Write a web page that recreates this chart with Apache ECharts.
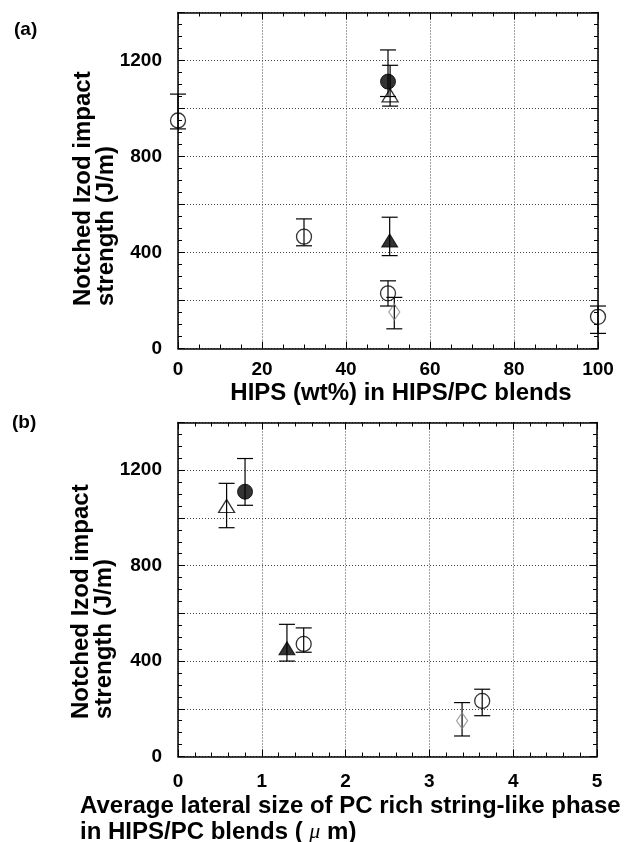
<!DOCTYPE html>
<html>
<head>
<meta charset="utf-8">
<script src="https://cdn.jsdelivr.net/npm/echarts@6/dist/echarts.min.js"></script>
<style>
html,body{margin:0;padding:0;background:#fff;}
#chart{width:626px;height:842px;}
</style>
</head>
<body>
<div id="chart"></div>
<script>
// ---------- Data: (a) HIPS content ----------
const aOpenCircleX    = [0, 30, 50, 100];
const aOpenCircleY    = [950, 466, 230, 132];
const aOpenCircleLow  = [915, 428, 177, 63];
const aOpenCircleHigh = [1060, 540, 282, 177];

const aFilledCircleX = [50];   const aFilledCircleY = [1112]; const aFilledCircleLow = [1050]; const aFilledCircleHigh = [1244];
const aOpenTriX      = [50.5]; const aOpenTriY      = [1055]; const aOpenTriLow      = [1010]; const aOpenTriHigh      = [1180];
const aFilledTriX    = [50.4]; const aFilledTriY    = [450];  const aFilledTriLow    = [387];  const aFilledTriHigh    = [547];
const aDiamondX      = [51.5]; const aDiamondY      = [152];  const aDiamondLow      = [82];   const aDiamondHigh      = [213];

// ---------- Data: (b) lateral size ----------
const bOpenCircleX    = [1.50, 3.63];
const bOpenCircleY    = [472, 233];
const bOpenCircleLow  = [437, 171];
const bOpenCircleHigh = [539, 282];

const bFilledCircleX = [0.80]; const bFilledCircleY = [1110]; const bFilledCircleLow = [1053]; const bFilledCircleHigh = [1249];
const bOpenTriX      = [0.58]; const bOpenTriY      = [1050]; const bOpenTriLow      = [959];  const bOpenTriHigh      = [1145];
const bFilledTriX    = [1.30]; const bFilledTriY    = [454];  const bFilledTriLow    = [400];  const bFilledTriHigh    = [554];
const bDiamondX      = [3.39]; const bDiamondY      = [150];  const bDiamondLow      = [86];   const bDiamondHigh      = [226];

// ---------- Axis tick settings ----------
const yMin = 0, yMax = 1400, yInterval = 200, yLabelEvery = 400;
const aXMin = 0, aXMax = 100, aXInterval = 20;
const bXMin = 0, bXMax = 5, bXInterval = 1;

const FONT = '"Liberation Sans", Arial, Helvetica, sans-serif';

function rows(X, Y, L, H) { return X.map((x, i) => [x, Y[i], L[i], H[i]]); }

const chart = echarts.init(document.getElementById('chart'));

function axisLine() { return { show: true, onZero: false, lineStyle: { color: '#000', width: 1.5 } }; }
const splitLine = { show: true, lineStyle: { type: [1, 2], color: '#444', width: 1 } };
const tickLabel = { color: '#000', fontFamily: FONT, fontWeight: 'bold', fontSize: 19 };

function xAxis(grid, pos, min, max, interval, minorSplit, showLabel, margin) {
  return {
    type: 'value', gridIndex: grid, position: pos, min, max, interval,
    axisLine: axisLine(),
    axisTick: { show: true, inside: true, length: 7, lineStyle: { color: '#000', width: 1 } },
    minorTick: { show: true, splitNumber: minorSplit, length: 4, lineStyle: { color: '#000', width: 1 } },
    splitLine: showLabel ? splitLine : { show: false },
    axisLabel: showLabel ? Object.assign({ margin }, tickLabel) : { show: false }
  };
}
function yAxis(grid, pos, showLabel) {
  return {
    type: 'value', gridIndex: grid, position: pos, min: yMin, max: yMax, interval: yInterval,
    axisLine: axisLine(),
    axisTick: { show: true, inside: true, length: 7, lineStyle: { color: '#000', width: 1 } },
    minorTick: { show: true, splitNumber: 4, length: 4, lineStyle: { color: '#000', width: 1 } },
    splitLine: showLabel ? splitLine : { show: false },
    axisLabel: showLabel ? Object.assign({ margin: 16, formatter: v => (v % yLabelEvery === 0 ? String(v) : '') }, tickLabel) : { show: false }
  };
}

function errorSeries(xi, yi, data) {
  return {
    type: 'custom', xAxisIndex: xi, yAxisIndex: yi, z: 3, silent: true,
    encode: { x: 0, y: [2, 3] },
    renderItem: function (params, api) {
      const x = api.value(0);
      const lo = api.coord([x, api.value(2)]);
      const hi = api.coord([x, api.value(3)]);
      const w = 8;
      const st = { stroke: '#000', lineWidth: 1.2 };
      return {
        type: 'group',
        children: [
          { type: 'line', shape: { x1: lo[0], y1: lo[1], x2: hi[0], y2: hi[1] }, style: st },
          { type: 'line', shape: { x1: lo[0] - w, y1: lo[1], x2: lo[0] + w, y2: lo[1] }, style: st },
          { type: 'line', shape: { x1: hi[0] - w, y1: hi[1], x2: hi[0] + w, y2: hi[1] }, style: st }
        ]
      };
    },
    data
  };
}

const markers = {
  openCircle:   { symbol: 'circle', symbolSize: 15, itemStyle: { color: 'transparent', borderColor: '#000', borderWidth: 1.3 } },
  filledCircle: { symbol: 'circle', symbolSize: 15, itemStyle: { color: '#000', borderColor: '#000', borderWidth: 1 } },
  openTri:      { symbol: 'triangle', symbolSize: [16, 13], itemStyle: { color: 'transparent', borderColor: '#000', borderWidth: 1.3 } },
  filledTri:    { symbol: 'triangle', symbolSize: [16, 13], itemStyle: { color: '#000', borderColor: '#000', borderWidth: 1 } },
  diamond:      { symbol: 'diamond', symbolSize: [11, 16], itemStyle: { color: 'transparent', borderColor: '#888', borderWidth: 1.2 } }
};

function scatter(name, xi, yi, kind, data) {
  return Object.assign({ name, type: 'scatter', xAxisIndex: xi, yAxisIndex: yi, z: 4, data: data.map(r => [r[0], r[1]]) }, markers[kind]);
}

const groupsA = [
  ['open circle', 'openCircle', rows(aOpenCircleX, aOpenCircleY, aOpenCircleLow, aOpenCircleHigh)],
  ['filled circle', 'filledCircle', rows(aFilledCircleX, aFilledCircleY, aFilledCircleLow, aFilledCircleHigh)],
  ['open triangle', 'openTri', rows(aOpenTriX, aOpenTriY, aOpenTriLow, aOpenTriHigh)],
  ['filled triangle', 'filledTri', rows(aFilledTriX, aFilledTriY, aFilledTriLow, aFilledTriHigh)],
  ['diamond', 'diamond', rows(aDiamondX, aDiamondY, aDiamondLow, aDiamondHigh)]
];
const groupsB = [
  ['open circle', 'openCircle', rows(bOpenCircleX, bOpenCircleY, bOpenCircleLow, bOpenCircleHigh)],
  ['filled circle', 'filledCircle', rows(bFilledCircleX, bFilledCircleY, bFilledCircleLow, bFilledCircleHigh)],
  ['open triangle', 'openTri', rows(bOpenTriX, bOpenTriY, bOpenTriLow, bOpenTriHigh)],
  ['filled triangle', 'filledTri', rows(bFilledTriX, bFilledTriY, bFilledTriLow, bFilledTriHigh)],
  ['diamond', 'diamond', rows(bDiamondX, bDiamondY, bDiamondLow, bDiamondHigh)]
];

const series = [];
groupsA.forEach(g => { series.push(errorSeries(0, 0, g[2])); series.push(scatter(g[0], 0, 0, g[1], g[2])); });
groupsB.forEach(g => { series.push(errorSeries(2, 2, g[2])); series.push(scatter(g[0], 2, 2, g[1], g[2])); });

function txt(text, x, y, opts) {
  const style = Object.assign({
    text, x: 0, y: 0, fill: '#000',
    font: 'bold 24px ' + FONT,
    align: 'left', verticalAlign: 'middle', textAlign: 'left', textVerticalAlign: 'middle'
  }, opts.style || {});
  return Object.assign({ type: 'text', x, y, style, silent: true }, opts.el || {});
}

const option = {
  animation: false,
  backgroundColor: '#fff',
  grid: [
    { left: 178, top: 12.5, width: 420, height: 336, containLabel: false },
    { left: 178, top: 422.5, width: 419, height: 334, containLabel: false }
  ],
  xAxis: [
    xAxis(0, 'bottom', aXMin, aXMax, aXInterval, 4, true, 12),
    xAxis(0, 'top', aXMin, aXMax, aXInterval, 4, false, 0),
    xAxis(1, 'bottom', bXMin, bXMax, bXInterval, 5, true, 16),
    xAxis(1, 'top', bXMin, bXMax, bXInterval, 5, false, 0)
  ],
  yAxis: [
    yAxis(0, 'left', true),
    yAxis(0, 'right', false),
    yAxis(1, 'left', true),
    yAxis(1, 'right', false)
  ],
  graphic: [
    txt('(a)', 14, 30, { style: { font: 'bold 19px ' + FONT } }),
    txt('(b)', 12, 423, { style: { font: 'bold 19px ' + FONT } }),
    txt('Notched Izod impact\nstrength (J/m)', 95, 306, { el: { rotation: Math.PI / 2 }, style: { lineHeight: 23 } }),
    txt('Notched Izod impact\nstrength (J/m)', 93, 719, { el: { rotation: Math.PI / 2 }, style: { lineHeight: 23 } }),
    txt('HIPS (wt%) in HIPS/PC blends', 401, 393, { style: { align: 'center', textAlign: 'center' } }),
    txt('Average lateral size of PC rich string-like phase\nin HIPS/PC blends ( {mu|μ} m)', 80, 819, {
      style: {
        lineHeight: 26,
        rich: { mu: { font: 'italic 22px "Liberation Serif", serif', fill: '#000', lineHeight: 26 } }
      }
    })
  ],
  series
};
chart.setOption(option);
</script>
</body>
</html>
